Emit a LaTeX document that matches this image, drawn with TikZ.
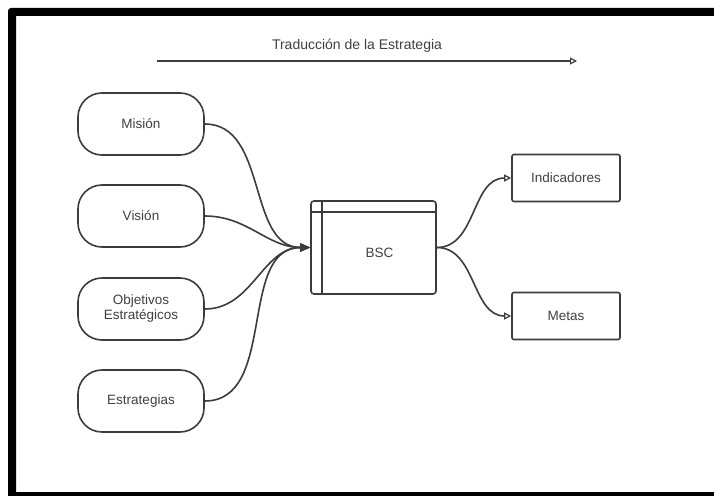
\documentclass[tikz,border=0pt]{standalone}
\usepackage{fontspec}
\setmainfont{Liberation Sans}
\usetikzlibrary{arrows.meta}
\definecolor{ink}{HTML}{3C3C3C}
\definecolor{txt}{HTML}{404040}
\begin{document}
\begin{tikzpicture}[x=1pt,y=-1pt,
  every node/.style={font=\fontsize{13.5}{15}\selectfont, text=txt},
  pill/.style={draw=ink, line width=1.6pt, rounded corners=24pt,
    minimum width=126pt, minimum height=62pt, inner sep=0pt, align=center},
  goalbox/.style={draw=ink, line width=1.6pt, rounded corners=2pt,
    minimum width=108pt, minimum height=47pt, inner sep=0pt},
  link/.style={draw=ink, line width=1.6pt},
  opentip/.style={-{Triangle[open, length=7pt, width=7pt, line width=1.2pt]}},
  solidtip/.style={-{Triangle[length=10pt, width=8pt]}}]
  \useasboundingbox (0,0) rectangle (714,495);
  \fill[white] (0,0) rectangle (714,495);
  % outer frame, open on the right side
  \begin{scope}
    \clip (0,0) rectangle (714,495);
    \fill[black, even odd rule]
      [rounded corners=3pt] (8,8) rectangle (730,510)
      [sharp corners] (16,16) rectangle (730,492);
  \end{scope}

  % strategy translation arrow
  \node[font=\fontsize{14}{16}\selectfont] (title) at (357,46) {Traducción de la Estrategia};
  \coordinate (tstart) at (157,61);
  \coordinate (tend) at (577,61);
  \draw[link, opentip] (tstart) -- (tend);

  % source pills
  \node[pill] (mision) at (141,124) {Misión};
  \node[pill] (vision) at (141,216) {Visión};
  \node[pill] (objetivos) at (141,309) {Objetivos\\Estratégicos};
  \node[pill] (estrategias) at (141,401) {Estrategias};

  % BSC window box
  \node[draw=ink, line width=1.6pt, rounded corners=3pt,
        minimum width=125pt, minimum height=93pt] (bsc) at (373.5,247.5) {};
  \draw[link] ([yshift=-12pt]bsc.north west) -- ([yshift=-12pt]bsc.north east);
  \draw[link] ([xshift=12pt]bsc.north west) -- ([xshift=12pt]bsc.south west);
  \node (bsclabel) at (379.5,253) {BSC};

  % outputs
  \node[goalbox] (indicadores) at (566,178) {Indicadores};
  \node[goalbox] (metas) at (566,316) {Metas};

  % connectors into BSC
  \foreach \src in {mision,vision,objetivos,estrategias}
    \draw[link, solidtip] (\src.east) to[out=0, in=180] (bsc.west);

  % connectors out of BSC
  \draw[link, opentip] (bsc.east) to[out=0, in=180] (indicadores.west);
  \draw[link, opentip] (bsc.east) to[out=0, in=180] (metas.west);
\end{tikzpicture}
\end{document}
